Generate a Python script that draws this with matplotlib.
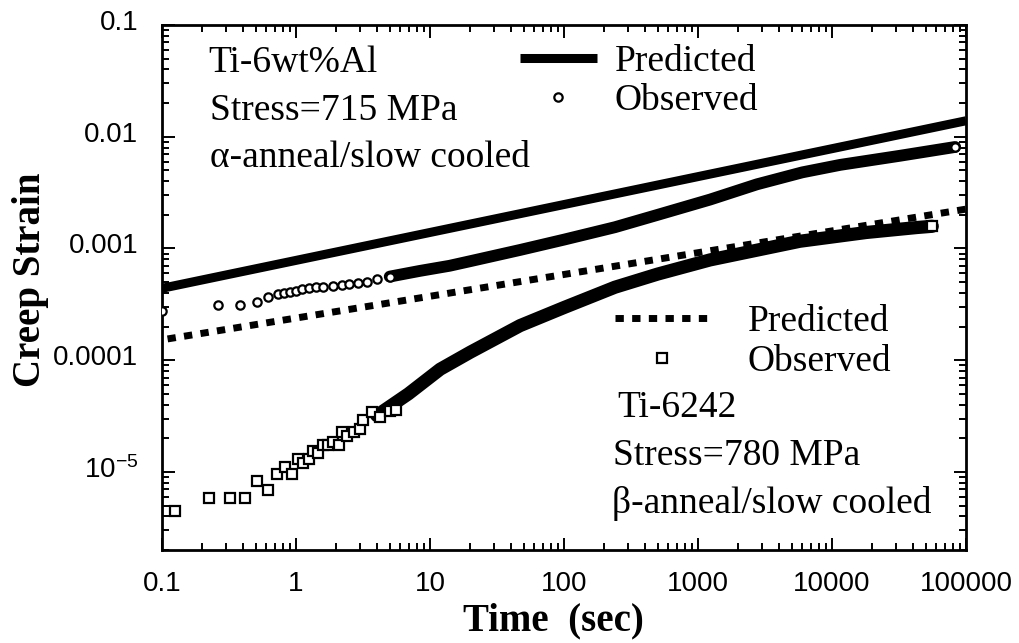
# Creep strain vs time, Ti-6wt%Al and Ti-6242, predicted vs observed
import matplotlib
matplotlib.use('Agg')
import matplotlib.pyplot as plt
import matplotlib.transforms as mtransforms
from matplotlib.ticker import FixedLocator, FixedFormatter, LogLocator, NullFormatter

plt.rcParams['mathtext.fontset'] = 'custom'
plt.rcParams['mathtext.rm'] = 'Liberation Sans'
plt.rcParams['mathtext.it'] = 'Liberation Sans:italic'

# Ti-6wt%Al, 715 MPa
al_pred_t = [0.1, 100000]
al_pred_e = [4.4e-4, 0.0139]
# individual circles at short times
al_obs_t = [0.1, 0.26, 0.38, 0.51, 0.62, 0.73, 0.81, 0.9, 1.0, 1.1, 1.25, 1.4,
            1.6, 1.9, 2.2, 2.5, 2.9, 3.4, 4.0, 5.0, 83000]
al_obs_e = [2.75e-4, 3.15e-4, 3.15e-4, 3.35e-4, 3.65e-4, 3.9e-4, 4.0e-4, 4.1e-4,
            4.2e-4, 4.3e-4, 4.4e-4, 4.5e-4, 4.55e-4, 4.6e-4, 4.7e-4, 4.8e-4,
            4.95e-4, 5.05e-4, 5.3e-4, 5.6e-4, 8.1e-3]
# dense part of the record (markers overlap into a band)
al_band_t = [5.0, 8.4, 14, 20, 47, 100, 240, 500, 1230, 2750, 6000, 11500, 32000, 83000]
al_band_e = [5.6e-4, 6.3e-4, 7.0e-4, 7.7e-4, 9.7e-4, 1.2e-3, 1.55e-3, 2.0e-3,
             2.74e-3, 3.75e-3, 4.8e-3, 5.6e-3, 6.75e-3, 8.1e-3]

# Ti-6242, 780 MPa
ti_pred_t = [0.11, 100000]
ti_pred_e = [1.55e-4, 2.25e-3]
ti_obs_t = [0.126, 0.225, 0.32, 0.415, 0.51, 0.62, 0.72, 0.83, 0.93, 1.04, 1.12,
            1.25, 1.35, 1.47, 1.58, 1.74, 1.88, 2.1, 2.19, 2.39, 2.7, 3.0, 3.17,
            3.67, 4.2, 5.0, 5.6, 56000]
ti_obs_e = [4.5e-6, 5.8e-6, 5.8e-6, 5.8e-6, 8.3e-6, 6.9e-6, 9.5e-6, 1.1e-5, 9.5e-6,
            1.3e-5, 1.2e-5, 1.3e-5, 1.55e-5, 1.48e-5, 1.73e-5, 1.73e-5, 1.84e-5,
            1.73e-5, 2.3e-5, 2.1e-5, 2.3e-5, 2.4e-5, 2.9e-5, 3.45e-5, 3.1e-5,
            3.5e-5, 3.6e-5, 1.58e-3]
ti_band_t = [4.0, 6.9, 11.9, 20, 47, 100, 240, 500, 1230, 5750, 18000, 43000, 56000]
ti_band_e = [3.2e-5, 5.0e-5, 8.3e-5, 1.18e-4, 2.04e-4, 2.96e-4, 4.5e-4, 5.9e-4,
             7.9e-4, 1.16e-3, 1.39e-3, 1.54e-3, 1.58e-3]

x_ticks = [0.1, 1, 10, 100, 1000, 10000, 100000]
x_labels = ['0.1', '1', '10', '100', '1000', '10000', '100000']
y_ticks = [1e-5, 1e-4, 1e-3, 1e-2, 1e-1]
y_labels = ['$10^{-5}$', '0.0001', '0.001', '0.01', '0.1']

serif = 'Liberation Serif'
sans = 'Liberation Sans'

fig = plt.figure(figsize=(10.19, 6.43), dpi=100)
ax = fig.add_axes([0.159, 0.1446, 0.789, 0.8165])
ax.set_xscale('log')
ax.set_yscale('log')

pred_al, = ax.plot(al_pred_t, al_pred_e, color='k', lw=6.5, solid_capstyle='butt', zorder=3)
pred_ti, = ax.plot(ti_pred_t, ti_pred_e, color='k', lw=5, dashes=(1.2, 1.2), zorder=3)

obs_al, = ax.plot(al_obs_t, al_obs_e, ls='none', marker='o', ms=6, mfc='white',
                  mec='k', mew=1.6, zorder=5)
ax.plot(al_band_t, al_band_e, color='k', lw=8.5, solid_capstyle='round',
        solid_joinstyle='round', zorder=4)

obs_ti, = ax.plot(ti_obs_t, ti_obs_e, ls='none', marker='s', ms=7, mfc='white',
                  mec='k', mew=1.6, zorder=5)
ax.plot(ti_band_t, ti_band_e, color='k', lw=9.5, solid_capstyle='round',
        solid_joinstyle='round', zorder=4)

ax.set_xlim(0.1, 100000)
ax.set_ylim(2e-6, 0.1)

ax.xaxis.set_major_locator(FixedLocator(x_ticks))
ax.xaxis.set_major_formatter(FixedFormatter(x_labels))
ax.xaxis.set_minor_locator(LogLocator(base=10, subs=range(2, 10), numticks=20))
ax.xaxis.set_minor_formatter(NullFormatter())
ax.yaxis.set_major_locator(FixedLocator(y_ticks))
ax.yaxis.set_major_formatter(FixedFormatter(y_labels))
ax.yaxis.set_minor_locator(LogLocator(base=10, subs=range(2, 10), numticks=20))
ax.yaxis.set_minor_formatter(NullFormatter())

ax.tick_params(which='both', direction='in', top=True, right=True, width=1.4)
ax.tick_params(which='major', length=9)
ax.tick_params(which='minor', length=5)
ax.tick_params(axis='x', which='major', pad=15, labelsize=20)
ax.tick_params(axis='y', which='major', pad=17, labelsize=20)
for lab in ax.get_xticklabels() + ax.get_yticklabels():
    lab.set_family(sans)
for s in ax.spines.values():
    s.set_linewidth(2)

# y tick labels sit a little above their ticks in the original
up = mtransforms.ScaledTranslation(0, 0.05, fig.dpi_scale_trans)
for t in ax.yaxis.get_major_ticks():
    t.label1.set_transform(t.label1.get_transform() + up)

ax.set_xlabel('Time  (sec)', family=serif, weight='bold', fontsize=28)
ax.xaxis.set_label_coords(0.487, -0.1)
ax.set_ylabel('Creep Strain', family=serif, weight='bold', fontsize=28)
ax.yaxis.set_label_coords(-0.14, 0.514)

leg1 = ax.legend([pred_al, obs_al], ['Predicted', 'Observed'], loc='upper left',
                 bbox_to_anchor=(0.445, 0.962), frameon=False, borderpad=0,
                 borderaxespad=0, handlelength=2.05, handletextpad=0.48,
                 labelspacing=0.1, numpoints=1, prop={'family': serif, 'size': 27})
ax.add_artist(leg1)
ax.legend([pred_ti, obs_ti], ['Predicted', 'Observed'], loc='upper left',
          bbox_to_anchor=(0.563, 0.468), frameon=False, borderpad=0,
          borderaxespad=0, handlelength=2.5, handletextpad=1.04,
          labelspacing=0.15, numpoints=1, prop={'family': serif, 'size': 27})

txt = dict(transform=ax.transAxes, family=serif, fontsize=27, va='baseline')
ax.text(0.0572, 0.910, 'Ti-6wt%Al', **txt)
ax.text(0.0597, 0.819, 'Stress=715 MPa', **txt)
ax.text(0.0597, 0.7295, 'α-anneal/slow cooled', **txt)
ax.text(0.566, 0.253, 'Ti-6242', **txt)
ax.text(0.561, 0.162, 'Stress=780 MPa', **txt)
ax.text(0.560, 0.0705, 'β-anneal/slow cooled', **txt)

fig.savefig('out.png', dpi=100)
